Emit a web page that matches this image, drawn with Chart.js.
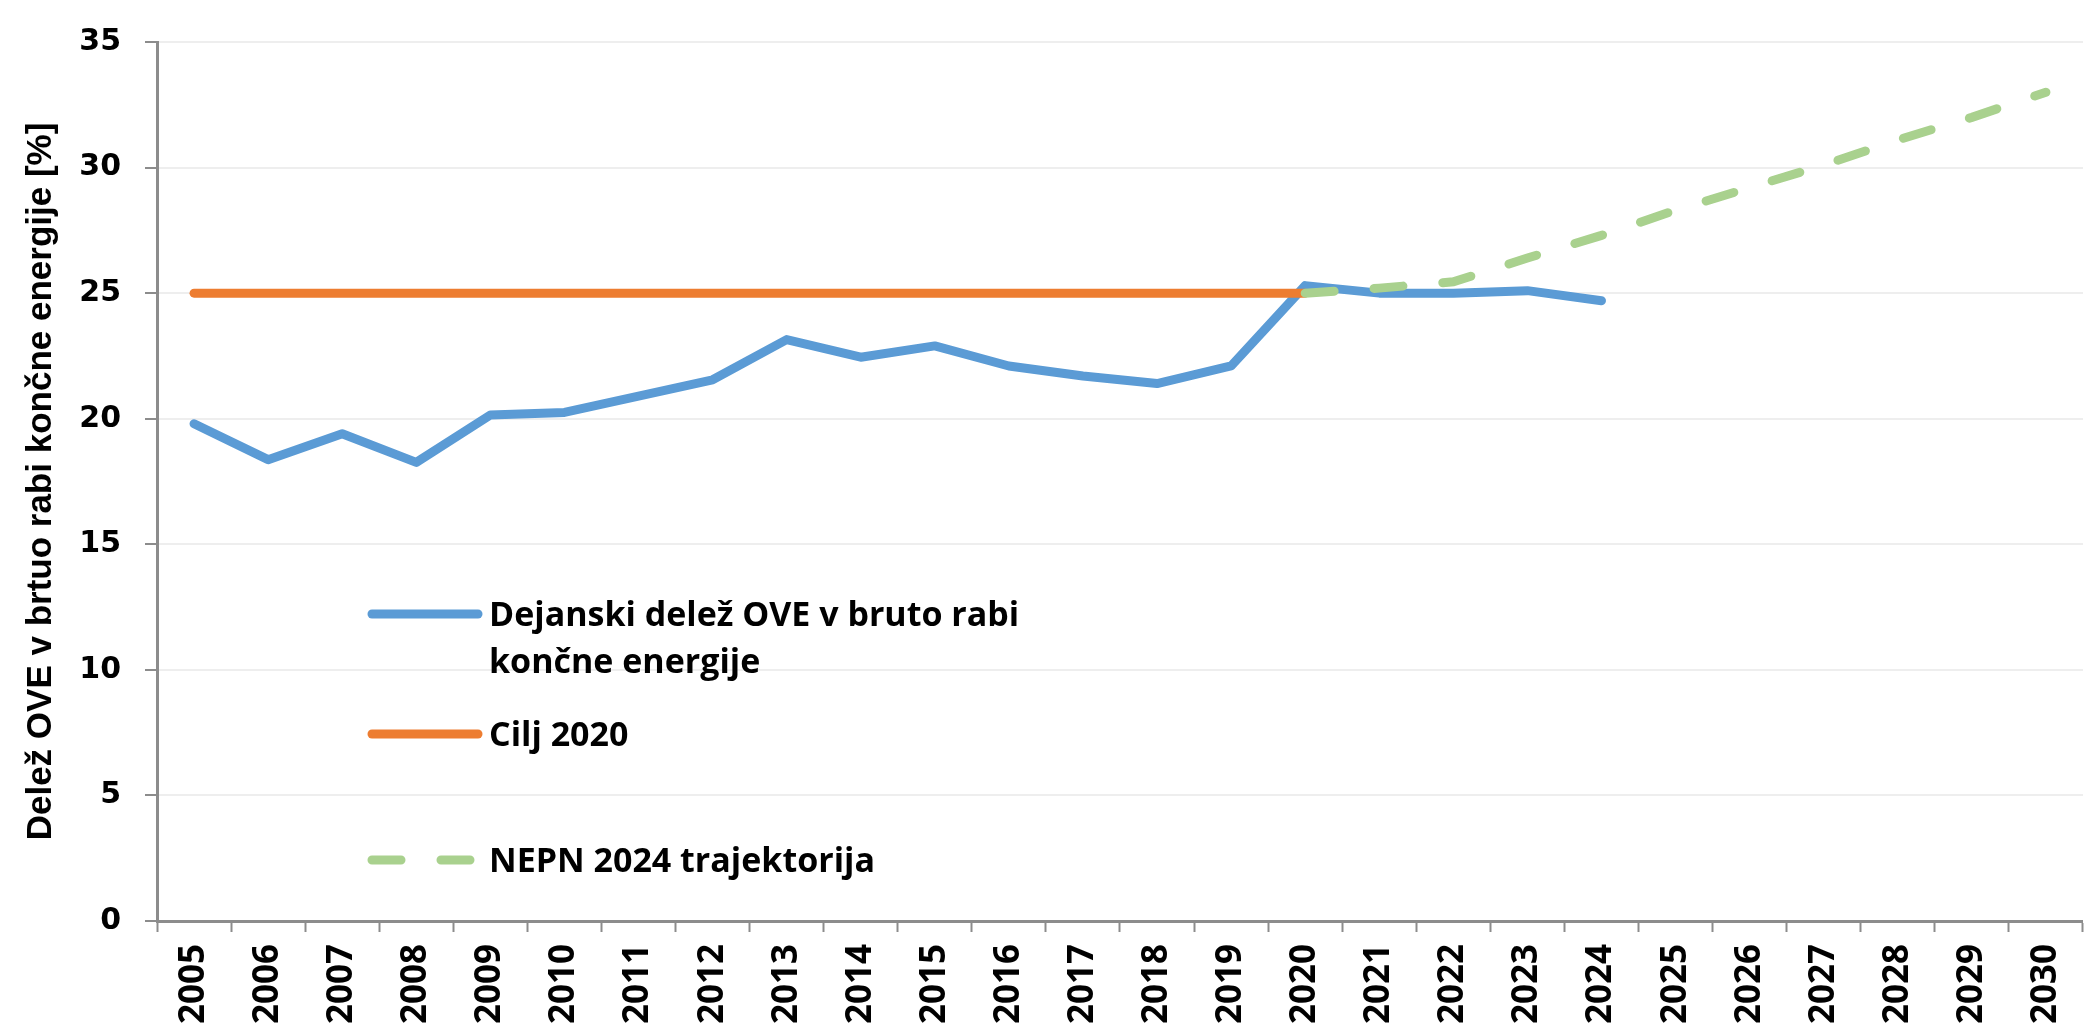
<!DOCTYPE html>
<html>
<head>
<meta charset="utf-8">
<script src="https://cdn.jsdelivr.net/npm/chart.js@4.4.1/dist/chart.umd.min.js"></script>
<style>
  html, body { margin: 0; padding: 0; overflow: hidden; background: #ffffff; width: 2085px; height: 1026px; }
  #wrap { position: absolute; left: 0; top: 0; width: 2100px; height: 1040px; }
</style>
</head>
<body>
<div id="wrap"><canvas id="c" width="2100" height="1040"></canvas></div>
<script>
// ---- data ----
const years = ['2005','2006','2007','2008','2009','2010','2011','2012','2013','2014','2015','2016','2017','2018','2019','2020','2021','2022','2023','2024','2025','2026','2027','2028','2029','2030'];
const actualShare = [19.8, 18.37, 19.4, 18.26, 20.15, 20.25, 20.9, 21.55, 23.15, 22.45, 22.9, 22.1, 21.7, 21.4, 22.1, 25.3, 25.0, 25.0, 25.1, 24.7, null, null, null, null, null, null];
const target2020 = [25, 25, 25, 25, 25, 25, 25, 25, 25, 25, 25, 25, 25, 25, 25, 25, null, null, null, null, null, null, null, null, null, null];
const nepnTrajectory = [null, null, null, null, null, null, null, null, null, null, null, null, null, null, null, 25.0, 25.2, 25.45, 26.4, 27.3, 28.3, 29.2, 30.1, 31.1, 32.0, 33.0];
const yTicks = [0, 5, 10, 15, 20, 25, 30, 35];
const seriesNames = ['Dejanski delež OVE v bruto rabi končne energije', 'Cilj 2020', 'NEPN 2024 trajektorija'];
const legendLines = [['Dejanski delež OVE v bruto rabi', 'končne energije'], ['Cilj 2020'], ['NEPN 2024 trajektorija']];
const yAxisTitle = 'Delež OVE v brtuo rabi končne energije [%]';

// ---- custom in-plot legend ----
const inPlotLegend = {
  id: 'inPlotLegend',
  afterDraw(chart) {
    const ctx = chart.ctx;
    const rowsY = [614, 734, 860];
    const x0 = 372, x1 = 478, tx = 489;
    ctx.save();
    chart.data.datasets.forEach((ds, i) => {
      const y = rowsY[i];
      ctx.beginPath();
      ctx.lineWidth = ds.borderWidth;
      ctx.strokeStyle = ds.borderColor;
      ctx.lineCap = 'round';
      ctx.setLineDash(ds.borderDash || []);
      ctx.moveTo(x0, y);
      ctx.lineTo(x1, y);
      ctx.stroke();
      ctx.setLineDash([]);
      ctx.fillStyle = '#000000';
      ctx.font = 'bold 34px "Open Sans", "Liberation Sans", sans-serif';
      ctx.textBaseline = 'alphabetic';
      ctx.textAlign = 'left';
      legendLines[i].forEach((line, k) => {
        ctx.fillText(line, tx, y + 12 + k * 47);
      });
    });
    ctx.restore();
  }
};

const axisGray = '#8c8c8c';

new Chart(document.getElementById('c'), {
  type: 'line',
  data: {
    labels: years,
    datasets: [
      {
        label: seriesNames[0],
        data: actualShare,
        borderColor: '#5B9BD5',
        borderWidth: 9,
        pointRadius: 0,
        tension: 0,
        borderCapStyle: 'round',
        borderJoinStyle: 'round',
        spanGaps: false,
        order: 2
      },
      {
        label: seriesNames[1],
        data: target2020,
        borderColor: '#ED7D31',
        borderWidth: 9,
        pointRadius: 0,
        tension: 0,
        borderCapStyle: 'round',
        order: 1
      },
      {
        label: seriesNames[2],
        data: nepnTrajectory,
        borderColor: '#A9D18E',
        borderWidth: 9,
        borderDash: [29, 40],
        pointRadius: 0,
        tension: 0,
        borderCapStyle: 'round',
        order: 0
      }
    ]
  },
  options: {
    responsive: false,
    animation: false,
    devicePixelRatio: 1,
    layout: { padding: { top: 34, right: 3, left: 0, bottom: 0 } },
    plugins: {
      legend: { display: false },
      tooltip: { enabled: false }
    },
    scales: {
      x: {
        type: 'category',
        offset: true,
        grid: {
          offset: true,
          drawOnChartArea: false,
          drawTicks: true,
          tickLength: 11,
          tickColor: axisGray,
          tickWidth: 2
        },
        border: { color: axisGray, width: 3 },
        ticks: {
          maxRotation: 90,
          minRotation: 90,
          autoSkip: false,
          color: '#000000',
          padding: 12,
          font: { family: '"Open Sans", "Liberation Sans", sans-serif', weight: 'bold', size: 35 }
        },
        afterFit(s) { s.height = 119; }
      },
      y: {
        min: 0,
        max: 35,
        afterBuildTicks(s) { s.ticks = yTicks.map(v => ({ value: v })); },
        grid: {
          color: '#eeeeee',
          lineWidth: 2,
          drawTicks: true,
          tickLength: 12,
          tickColor: axisGray,
          tickWidth: 2
        },
        border: { color: axisGray, width: 3 },
        ticks: {
          color: '#000000',
          padding: 24,
          font: { family: '"DejaVu Sans", sans-serif', weight: 'bold', size: 30 }
        },
        title: {
          display: true,
          text: yAxisTitle,
          color: '#000000',
          padding: { top: 20, bottom: 0 },
          font: { family: '"Liberation Sans Narrow", "Liberation Sans", sans-serif', weight: 'bold', size: 35 }
        },
        afterFit(s) { s.width = 157; }
      }
    }
  },
  plugins: [inPlotLegend]
});
</script>
</body>
</html>
